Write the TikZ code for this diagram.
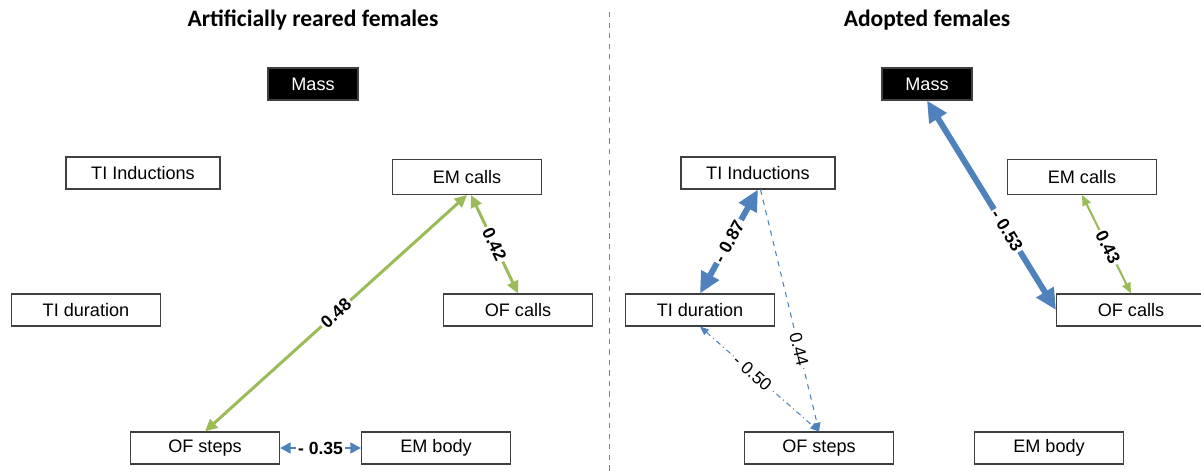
\documentclass[tikz,border=0pt]{standalone}
\usepackage{fontspec}
\setmainfont{Liberation Sans}
\newfontfamily\titlefont{Carlito}
\usetikzlibrary{arrows.meta}
\usetikzlibrary{positioning}
\definecolor{corgreen}{RGB}{155,187,89}
\definecolor{corblue}{RGB}{79,129,189}
\tikzset{
  varbox/.style={draw=black!75,line width=0.6pt,minimum width=2.98cm,minimum height=0.64cm,inner sep=0pt,font=\fontsize{10.3}{12}\selectfont},
  massbox/.style={varbox,fill=black,text=white,minimum width=1.8cm},
  paneltitle/.style={font=\titlefont\bfseries\fontsize{13.4}{16}\selectfont},
  corlab/.style={fill=white,inner sep=1.2pt,sloped,font=\fontsize{10}{12}\selectfont\bfseries},
  weaklab/.style={corlab,font=\fontsize{10}{12}\selectfont},
  strongblue/.style={draw=corblue,line width=3.4pt,<->,>={Triangle[length=12pt,width=11pt]}},
  midblue/.style={draw=corblue,line width=1.7pt,<->,>={Triangle[length=6pt,width=6pt]}},
  thinblue/.style={draw=corblue,line width=0.6pt,>={Triangle[length=5pt,width=4pt]}},
  greenthick/.style={draw=corgreen,line width=1.7pt,<->,>={Triangle[length=7pt,width=6.5pt]}},
  greenthin/.style={draw=corgreen,line width=1.2pt,<->,>={Triangle[length=6pt,width=5pt]}},
}
\begin{document}
\begin{tikzpicture}[x=0.02cm,y=-0.02cm]
\useasboundingbox (0,0) rectangle (1201,475);
\draw[gray,dashed] (609,12) -- (609,472);

\node[paneltitle] (titleL) at (313,20) {Artificially reared females};
\node[massbox] (massL) at (313,84) {Mass};
\node[varbox,minimum width=3.08cm] (tiindL) at (143,173) {TI Inductions};
\node[varbox,minimum height=0.7cm] (emcallsL) at (467,177) {EM calls};
\node[varbox] (tidurL) at (86,310) {TI duration};
\node[varbox] (ofcallsL) at (518,310) {OF calls};
\node[varbox] (ofstepsL) at (205,448) {OF steps};
\node[varbox] (embodyL) at (436,448) {EM body};

\node[paneltitle] (titleR) at (927,20) {Adopted females};
\node[massbox] (massR) at (927,84) {Mass};
\node[varbox,minimum width=3.08cm] (tiindR) at (758,173) {TI Inductions};
\node[varbox,minimum height=0.7cm] (emcallsR) at (1082,177) {EM calls};
\node[varbox] (tidurR) at (700,310) {TI duration};
\node[varbox] (ofcallsR) at (1131,310) {OF calls};
\node[varbox] (ofstepsR) at (819,448) {OF steps};
\node[varbox] (embodyR) at (1049,448) {EM body};

\draw[greenthick] (ofstepsL.north) -- node[corlab,pos=0.5] {0.48} (emcallsL.south);
\draw[greenthick] ([xshift=0.08cm]emcallsL.south) -- node[corlab,pos=0.5] {0.42} (ofcallsL.north);
\draw[midblue] (ofstepsL.east) -- node[corlab,sloped=false] {- 0.35} (embodyL.west);

\draw[strongblue] (massR.south) -- node[corlab,pos=0.62] {- 0.53} (ofcallsR.west);
\draw[strongblue] (tidurR.north) -- node[corlab,pos=0.5] {- 0.87} (tiindR.south);
\draw[thinblue,dashed,->] ([xshift=0.05cm]tiindR.south) -- node[weaklab,pos=0.66] {0.44} (ofstepsR.north);
\draw[thinblue,dash dot,<->] (tidurR.south) -- node[weaklab,pos=0.44] {- 0.50} (ofstepsR.north);
\draw[greenthin] (emcallsR.south) -- node[corlab,pos=0.53] {0.43} (ofcallsR.north);
\end{tikzpicture}
\end{document}
